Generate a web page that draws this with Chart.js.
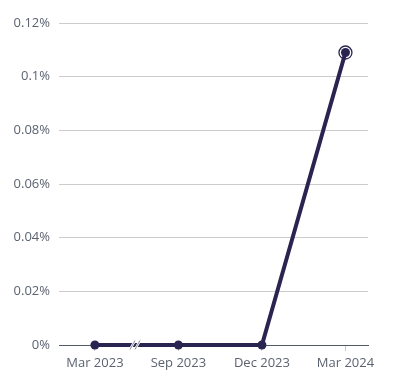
<!DOCTYPE html>
<html><head><meta charset="utf-8">
<script src="https://cdn.jsdelivr.net/npm/chart.js@4"></script>
<style>html,body{margin:0;padding:0;background:#fff}#wrap{width:397px;height:384px}</style>
</head><body><div id="wrap"><canvas id="c" width="397" height="384"></canvas></div>
<script>
const categories = ["Mar 2023", "Sep 2023", "Dec 2023", "Mar 2024"];
const values = [0, 0, 0, 0.109];
const yTicks = [0, 0.02, 0.04, 0.06, 0.08, 0.1, 0.12];
const lineColor = '#2a2550';

const extras = {
  id: 'extras',
  afterDatasetsDraw(chart) {
    const ctx = chart.ctx;
    const meta = chart.getDatasetMeta(0);
    const last = meta.data[meta.data.length - 1];
    ctx.save();
    ctx.beginPath();
    ctx.arc(last.x, last.y, 6.5, 0, Math.PI * 2);
    ctx.strokeStyle = lineColor;
    ctx.lineWidth = 1.3;
    ctx.stroke();
    // break marker
    const xs = chart.scales.x;
    const bx = xs.getPixelForValue(0.48);
    const by = chart.scales.y.getPixelForValue(0);
    for (const pass of [['#ffffff', 2.5], ['#8a8f98', 1]]) {
      ctx.strokeStyle = pass[0];
      ctx.lineWidth = pass[1];
      for (const dx of [-2.5, 2.5]) {
        ctx.beginPath();
        ctx.moveTo(bx + dx - 2.5, by + 4.5);
        ctx.lineTo(bx + dx + 2.5, by - 4.5);
        ctx.stroke();
      }
    }
    ctx.restore();
  }
};

new Chart(document.getElementById('c'), {
  type: 'line',
  data: {
    datasets: [{
      data: values.map((v, i) => ({x: i, y: v})),
      borderColor: lineColor,
      backgroundColor: lineColor,
      borderWidth: 4,
      pointRadius: 4.5,
      pointBorderWidth: 0,
      pointBackgroundColor: lineColor,
      tension: 0,
      clip: false
    }]
  },
  options: {
    responsive: false,
    animation: false,
    layout: { padding: { top: 23, right: 29, left: 0, bottom: 0 } },
    plugins: { legend: { display: false }, tooltip: { enabled: false } },
    scales: {
      x: {
        type: 'linear',
        min: -0.43,
        max: 3.27,
        afterBuildTicks(s) { s.ticks = categories.map((c, i) => ({ value: i })); },
        ticks: {
          callback: (v) => categories[v],
          color: '#5b6370',
          font: { family: 'Open Sans', size: 13 },
          padding: 4,
          autoSkip: false,
          maxRotation: 0
        },
        grid: { display: true, drawOnChartArea: false, drawTicks: true, tickLength: 6, color: '#c8c8c8' },
        border: { display: true, color: '#555b66', width: 1 },
        afterFit(s) { s.height = 39; }
      },
      y: {
        min: 0,
        max: 0.12,
        afterBuildTicks(s) { s.ticks = yTicks.map(v => ({ value: v })); },
        ticks: {
          callback: (v) => (Math.round(v * 100) / 100) + '%',
          color: '#5b6370',
          font: { family: 'Open Sans', size: 13 },
          padding: 9
        },
        grid: { color: '#cccccc', drawTicks: false, lineWidth: 1 },
        border: { display: false },
        afterFit(s) { s.width = 59; }
      }
    }
  },
  plugins: [extras]
});
</script></body></html>
